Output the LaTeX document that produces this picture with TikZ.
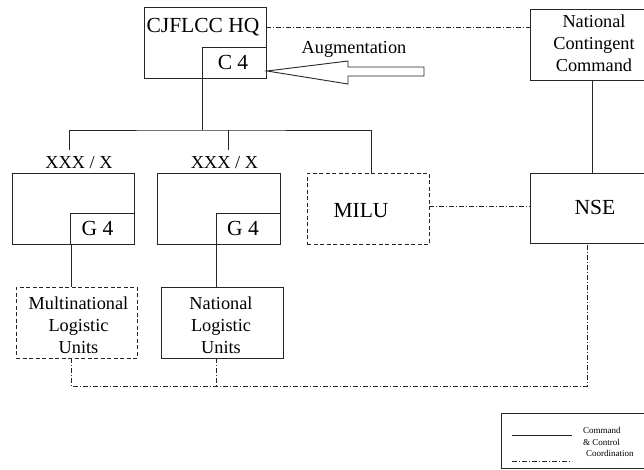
\documentclass[tikz,border=0pt]{standalone}
\usepackage{fontspec}
\setmainfont{Liberation Serif}
\begin{document}
\begin{tikzpicture}[x=1pt,y=-1pt,
  ink/.style={black!85, line width=0.9pt},
  box/.style={ink, draw, rectangle, inner sep=0pt, outer sep=0pt},
  dbox/.style={box, dash pattern=on 4pt off 2.5pt},
  coord/.style={ink, dash pattern=on 5pt off 2pt on 1pt off 2pt},
  big/.style={font=\fontsize{21.5}{24}\selectfont, inner sep=0pt},
  mid/.style={font=\fontsize{18.3}{21.8}\selectfont, inner sep=0pt, align=center},
  tiny/.style={font=\fontsize{9}{11}\selectfont, inner sep=0pt, anchor=west}]
  \useasboundingbox (0,0) rectangle (644,469);
  \begin{scope}
  \clip (0,0) rectangle (644,469);

  % headquarters and its logistics cell
  \node[box, minimum width=122pt, minimum height=71pt] (hq) at (205,42.5) {};
  \node[box, minimum width=64pt, minimum height=31pt] (c4) at (234,62.5) {};
  \node[big] (hqtext) at (203,27) {CJFLCC HQ};
  \node[big] (c4text) at (233,62) {C 4};

  % national chain
  \node[box, minimum width=126pt, minimum height=71pt] (ncc) at (593,44.5) {};
  \node[mid] (ncctext) at (594,43.5) {National\\Contingent\\Command};
  \node[box, minimum width=126pt, minimum height=70pt] (nse) at (593,208) {};
  \node[big] (nsetext) at (595,207) {NSE};

  % subordinate formations
  \node[mid] (lbla) at (79,163) {XXX / X};
  \node[mid] (lblb) at (224.5,163) {XXX / X};
  \node[box, minimum width=122pt, minimum height=71pt] (fa) at (73,208.5) {};
  \node[box, minimum width=64pt, minimum height=31pt] (g4a) at (102,228.5) {};
  \node[big] (g4atext) at (97.5,228) {G 4};
  \node[box, minimum width=123pt, minimum height=71pt] (fb) at (218.5,208.5) {};
  \node[box, minimum width=64pt, minimum height=31pt] (g4b) at (248,228.5) {};
  \node[big] (g4btext) at (243,228) {G 4};
  \node[dbox, minimum width=122pt, minimum height=71pt] (milu) at (368,208.5) {};
  \node[big] (milutext) at (361,211) {MILU};

  % logistic units
  \node[dbox, minimum width=121pt, minimum height=71pt] (mlu) at (76.5,322.5) {};
  \node[mid] (mlutext) at (78.5,325) {Multinational\\Logistic\\Units};
  \node[box, minimum width=122pt, minimum height=71pt] (nlu) at (222,322.5) {};
  \node[mid] (nlutext) at (221,325) {National\\Logistic\\Units};

  % augmentation arrow into C 4
  \coordinate (augtip) at (267,71);
  \draw[ink, fill=white] (augtip) -- (348,61) -- (348,67) -- (424,67)
        -- (424,76) -- (348,76) -- (348,84) -- cycle;
  \node[mid] (augtext) at (354,49) {Augmentation};

  % command and control lines
  \coordinate (hub) at (202,130);
  \coordinate (ta) at (69,150);
  \coordinate (tb) at (228,150);
  \coordinate (tc) at (371,173);
  \draw[ink] (c4.south west) -- (hub);
  \draw[ink] (ta) |- (hub) -| (tc);
  \draw[ink] (tb) -- (tb |- hub);
  \draw[ink] (ncc.south -| 592,0) -- (nse.north -| 592,0);
  \coordinate (ga) at (71,244);
  \coordinate (gb) at (216,244);
  \draw[ink] (ga) -- (ga |- mlu.north);
  \draw[ink] (gb) -- (gb |- nlu.north);

  % coordination lines
  \draw[coord] (hq.east |- hqtext) -- (ncc.west |- hqtext);
  \draw[coord] (milu.east |- 0,206) -- (nse.west |- 0,206);
  \coordinate (nsefoot) at (587,243);
  \coordinate (floor) at (0,386);
  \draw[coord] (ga |- mlu.south) -- (ga |- floor) -| (nsefoot);
  \draw[coord] (gb |- nlu.south) -- (gb |- floor);

  % legend
  \node[box, minimum width=159pt, minimum height=55pt] (legend) at (580.5,440.5) {};
  \coordinate (cs) at (512,435);
  \coordinate (ds) at (512,461);
  \draw[ink] (cs) -- ++(60,0);
  \draw[coord] (ds) -- ++(60,0);
  \node[tiny] (lgcmd) at (583,430) {Command};
  \node[tiny] (lgctl) at (583,442) {\& Control};
  \node[tiny] (lgcrd) at (586,453) {Coordination};
  \end{scope}
\end{tikzpicture}
\end{document}
